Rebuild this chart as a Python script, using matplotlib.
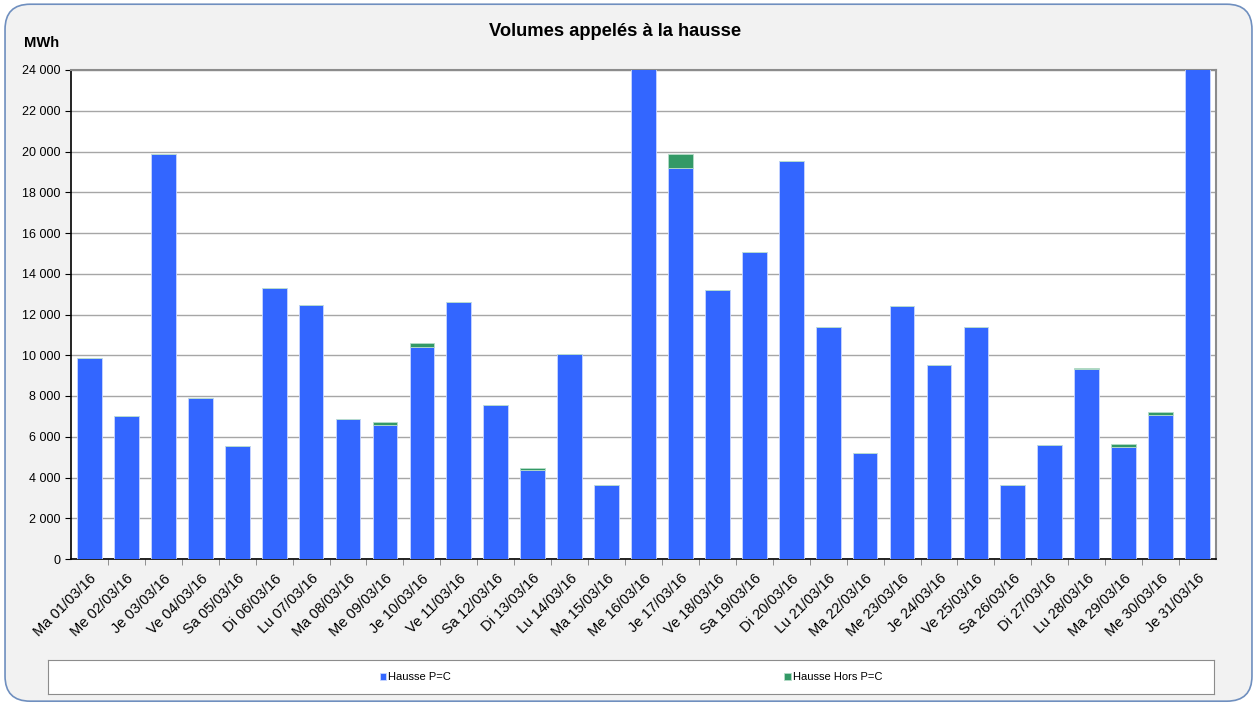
import matplotlib.pyplot as plt
from matplotlib.patches import FancyBboxPatch
from matplotlib.ticker import FuncFormatter

plt.rcParams['font.family'] = ['Liberation Sans', 'DejaVu Sans']

# Data (MWh)
days = ['Ma 01/03/16', 'Me 02/03/16', 'Je 03/03/16', 'Ve 04/03/16', 'Sa 05/03/16',
        'Di 06/03/16', 'Lu 07/03/16', 'Ma 08/03/16', 'Me 09/03/16', 'Je 10/03/16',
        'Ve 11/03/16', 'Sa 12/03/16', 'Di 13/03/16', 'Lu 14/03/16', 'Ma 15/03/16',
        'Me 16/03/16', 'Je 17/03/16', 'Ve 18/03/16', 'Sa 19/03/16', 'Di 20/03/16',
        'Lu 21/03/16', 'Ma 22/03/16', 'Me 23/03/16', 'Je 24/03/16', 'Ve 25/03/16',
        'Sa 26/03/16', 'Di 27/03/16', 'Lu 28/03/16', 'Ma 29/03/16', 'Me 30/03/16',
        'Je 31/03/16']
hausse_pc = [9870, 7020, 19860, 7900, 5550, 13300, 12470, 6870, 6580, 10420,
             12610, 7560, 4380, 10060, 3650, 25500, 19180, 13200, 15070, 19530,
             11390, 5200, 12420, 9520, 11390, 3620, 5600, 9320, 5510, 7080,
             26000]
hausse_hors_pc = [0, 0, 0, 0, 0, 0, 0, 0, 130, 170,
                  0, 0, 70, 0, 0, 0, 690, 0, 0, 0,
                  0, 0, 0, 0, 0, 0, 0, 70, 130, 135,
                  0]

blue = '#3366ff'
green = '#339966'

fig = plt.figure(figsize=(12.57, 7.04), dpi=100)
fig.patch.set_facecolor('white')
bg = FancyBboxPatch((0.004, 0.004), 0.992, 0.99,
                    boxstyle='round,pad=0,rounding_size=0.02',
                    transform=fig.transFigure, facecolor='#f2f2f2',
                    edgecolor='#6f8fbf', linewidth=1.2,
                    mutation_aspect=1257 / 704, zorder=-10)
fig.patches.append(bg)

ax = fig.add_axes([71 / 1257, 1 - 559 / 704, (1216 - 71) / 1257, (559 - 70) / 704])
ax.set_facecolor('white')
x = range(len(days))
ax.bar(x, hausse_pc, width=0.67, color=blue, edgecolor='#c9d6ff', linewidth=0.6,
       label='Hausse P=C', zorder=3)
ax.bar(x, hausse_hors_pc, width=0.67, bottom=hausse_pc, color=green,
       edgecolor='#b5dcc8', linewidth=0.6, label='Hausse Hors P=C', zorder=3)

ax.set_xlim(-0.5, len(days) - 0.5)
ax.set_ylim(0, 24000)
ax.set_yticks(range(0, 24001, 2000))
ax.yaxis.set_major_formatter(FuncFormatter(lambda v, p: f'{int(v):,}'.replace(',', ' ')))
ax.grid(axis='y', color='#a6a6a6', linewidth=1, zorder=0)
ax.set_xticks(list(x))
ax.set_xticklabels(days, rotation=45, ha='right', rotation_mode='anchor', fontsize=10.5)
ax.set_xticks([i + 0.5 for i in x][:-1], minor=True)
ax.tick_params(axis='x', which='major', length=0, pad=9)
ax.tick_params(axis='x', which='minor', length=4, color='#7f7f7f')
ax.tick_params(axis='y', labelsize=9, length=4)
for s in ['left', 'bottom']:
    ax.spines[s].set_color('black')
    ax.spines[s].set_linewidth(1.2)
for s in ['top', 'right']:
    ax.spines[s].set_color('#8c8c8c')
    ax.spines[s].set_linewidth(1.5)

fig.text(0.489, 1 - 31 / 704, 'Volumes appelés à la hausse', ha='center', va='center',
         fontsize=13.2, fontweight='bold')
fig.text(24 / 1257, 1 - 43 / 704, 'MWh', ha='left', va='center', fontsize=10.6,
         fontweight='bold')

# legend box
lax = fig.add_axes([48 / 1257, 1 - 694 / 704, (1214 - 48) / 1257, 34 / 704])
lax.set_xticks([])
lax.set_yticks([])
lax.set_facecolor('white')
for s in lax.spines.values():
    s.set_color('#8c8c8c')
handles, labels = ax.get_legend_handles_labels()
lax.legend(handles, labels, loc='center', ncol=2, frameon=False, fontsize=8,
           handlelength=0.6, handleheight=0.6, handletextpad=0.15,
           columnspacing=30, bbox_to_anchor=(0.5, 0.5))

fig.savefig('out.png', dpi=100)
